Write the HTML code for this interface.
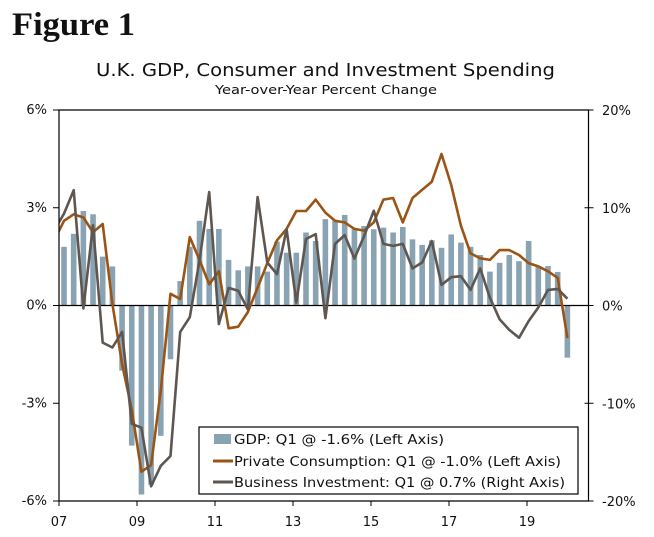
<!DOCTYPE html>
<html><head><meta charset="utf-8"><style>
html,body{margin:0;padding:0;background:#fff;width:654px;height:537px;overflow:hidden}
svg{display:block}
text{font-family:"DejaVu Sans","Liberation Sans",sans-serif;fill:#111}
</style></head><body>
<svg id="chart" width="654" height="537">
<text x="12" y="35" textLength="123" lengthAdjust="spacingAndGlyphs" style="font-family:'Liberation Serif',serif;font-weight:bold;font-size:33px">Figure 1</text>
<text x="96" y="76" textLength="459" lengthAdjust="spacingAndGlyphs" style="font-size:18px">U.K. GDP, Consumer and Investment Spending</text>
<text x="215" y="94" textLength="222" lengthAdjust="spacingAndGlyphs" style="font-size:12.5px">Year-over-Year Percent Change</text>
<g id="plot"></g>
</svg>
<script>
const years=["07","09","11","13","15","17","19"];
const leftTicks=[6,3,0,-3,-6];
const leftLabels=["6%","3%","0%","-3%","-6%"];
const rightTicks=[20,10,0,-10,-20];
const rightLabels=["20%","10%","0%","-10%","-20%"];
const gdp=[1.8,2.2,2.9,2.8,1.5,1.2,-2.0,-4.3,-5.8,-5.5,-4.0,-1.65,0.75,1.8,2.6,2.35,2.35,1.4,1.08,1.2,1.2,1.04,1.96,1.62,1.62,2.24,1.98,2.65,2.6,2.78,2.34,2.44,2.34,2.39,2.24,2.41,2.03,1.86,2.0,1.77,2.18,1.93,1.8,1.55,1.04,1.31,1.55,1.36,1.98,1.21,1.21,1.03,-1.6];
// consumption & investment start one quarter earlier (2006Q4), clipped at axis
const consumption=[2.0,2.6,2.8,2.7,2.25,2.5,0.05,-1.8,-3.2,-5.1,-4.9,-2.6,0.36,0.2,2.1,1.4,0.65,1.05,-0.7,-0.65,-0.2,0.55,1.3,2.0,2.35,2.9,2.9,3.25,2.85,2.6,2.55,2.35,2.3,2.55,3.25,3.3,2.55,3.3,3.55,3.8,4.65,3.7,2.45,1.6,1.45,1.4,1.7,1.7,1.55,1.3,1.2,1.05,0.85,-1.0];
const investment=[7.7,9.4,11.8,-0.3,8.2,-3.8,-4.3,-2.7,-12.1,-12.5,-18.5,-16.4,-15.4,-2.7,-1.2,4.6,11.6,-1.9,1.8,1.5,-0.4,11.1,4.4,3.2,7.8,0.3,6.8,7.3,-1.3,6.3,7.2,4.8,7.1,9.7,6.3,6.1,6.3,3.8,4.4,6.6,2.1,2.9,3.0,1.6,3.8,0.8,-1.4,-2.5,-3.3,-1.6,-0.2,1.6,1.7,0.7];

const NS="http://www.w3.org/2000/svg";
const L=59,R=588.5,T=110,B=501;
const xq=i=>64+9.68*i;
const yl=v=>305.5-v*(B-T)/12;
const yr=v=>305.5-v*(B-T)/40;
const g=document.getElementById('plot');
function mk(tag,attrs){const e=document.createElementNS(NS,tag);for(const k in attrs)e.setAttribute(k,attrs[k]);g.appendChild(e);return e;}
const defs=mk('defs',{});
const cp=document.createElementNS(NS,'clipPath');cp.setAttribute('id','clip');defs.appendChild(cp);
const cr=document.createElementNS(NS,'rect');cr.setAttribute('x',L);cr.setAttribute('y',T);cr.setAttribute('width',R-L);cr.setAttribute('height',B-T);cp.appendChild(cr);

gdp.forEach((v,i)=>{
  const y0=yl(0),y1=yl(v);
  const r=mk('rect',{x:xq(i)-2.8,y:Math.min(y0,y1),width:5.6,height:Math.abs(y1-y0),fill:'#8aa3b3'});
  
  
});
const z=mk('line',{x1:L,x2:R,y1:yl(0),y2:yl(0),stroke:'#000','stroke-width':1.2});



const cPts=consumption.map((v,k)=>xq(k-1).toFixed(1)+','+yl(v).toFixed(1)).join(' ');
const iPts=investment.map((v,k)=>xq(k-1).toFixed(1)+','+yr(v).toFixed(1)).join(' ');
const cl=mk('polyline',{points:cPts,fill:'none',stroke:'#9a5516','stroke-width':2.6,'stroke-linejoin':'round','clip-path':'url(#clip)'});


const il=mk('polyline',{points:iPts,fill:'none',stroke:'#5e5650','stroke-width':2.6,'stroke-linejoin':'round','clip-path':'url(#clip)'});



const fr=mk('path',{d:`M${L} ${T}H${R}V${B}H${L}Z`,fill:'none',stroke:'#000','stroke-width':1.2});



leftTicks.forEach((v,k)=>{
  mk('line',{x1:L-6,x2:L,y1:yl(v),y2:yl(v),stroke:'#000'});
  const t=mk('text',{x:47,y:yl(v)+4,'text-anchor':'end','font-size':13});
  t.textContent=leftLabels[k];
  
  
});
rightTicks.forEach((v,k)=>{
  mk('line',{x1:R-4,x2:R+5,y1:yr(v),y2:yr(v),stroke:'#000'});
  const t=mk('text',{x:602,y:yr(v)+5,'font-size':13});
  t.textContent=rightLabels[k];
  
  
});
years.forEach((y,k)=>{
  const x=L+78*k;
  mk('line',{x1:x,x2:x,y1:B,y2:B+5,stroke:'#000'});
  const t=mk('text',{x:x,y:526,'text-anchor':'middle','font-size':13});
  t.textContent=y;
  
  
});

const lg=mk('rect',{x:199,y:427,width:379,height:67,fill:'#fff',stroke:'#000','stroke-width':1.2});


const sw=mk('rect',{x:214,y:434,width:17,height:10,fill:'#8aa3b3'});


[['#9a5516',461,'legend-consumption-swatch'],['#5e5650',482,'legend-investment-swatch']].forEach(s=>{
  const l=mk('line',{x1:213,x2:233,y1:s[1],y2:s[1],stroke:s[0],'stroke-width':3});
  
  
});
[["GDP: Q1 @ -1.6% (Left Axis)",444,'legend-entry-gdp',210],["Private Consumption: Q1 @ -1.0% (Left Axis)",466,'legend-entry-consumption',327],["Business Investment: Q1 @ 0.7% (Right Axis)",487,'legend-entry-investment',331]].forEach(e=>{
  const t=mk('text',{x:234,y:e[1],'font-size':13.5,textLength:e[3],lengthAdjust:'spacingAndGlyphs'});
  t.textContent=e[0];
  
  
});
</script>
</body></html>
